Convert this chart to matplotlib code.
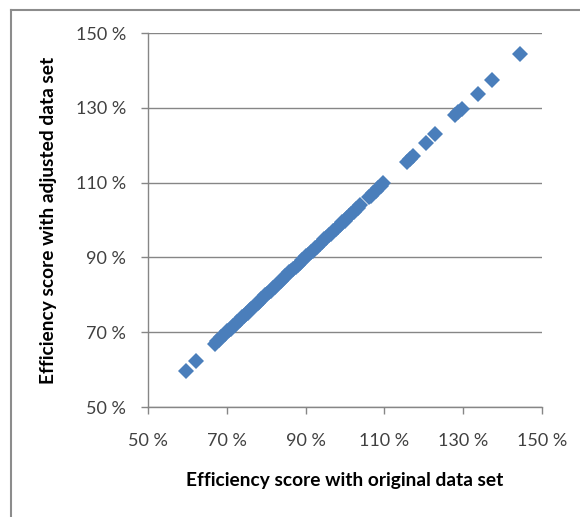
import numpy as np
import matplotlib.pyplot as plt
from matplotlib.lines import Line2D

plt.rcParams['font.family'] = ['Lato', 'DejaVu Sans']

# efficiency scores (%)
orig = [59.6, 62.2,
        67.0, 67.5, 68.1, 68.6, 69.0, 69.6, 70.1, 70.5, 71.0, 71.6, 72.1, 72.5,
        73.0, 73.4, 73.9, 74.4, 74.8, 75.3, 75.8, 76.2, 76.7, 77.3, 77.8, 78.2,
        78.7, 79.3, 79.8, 80.3, 80.7, 81.2, 81.8, 82.3, 82.8, 83.2, 83.7, 84.3,
        84.8, 85.4, 85.9, 86.4, 86.9, 87.5, 88.0, 88.6, 89.1, 89.6, 90.2, 90.7,
        91.3, 91.9, 92.4, 93.0, 93.6, 94.1, 94.7, 95.3, 95.9, 96.4, 97.0, 97.6,
        98.1, 98.7, 99.3, 99.9, 100.5, 101.1, 101.6, 102.2, 102.8, 103.3, 103.9,
        106.0, 106.6, 107.2, 107.8, 108.5, 109.1, 109.7,
        115.7, 116.5, 117.2, 120.5, 122.8, 127.9, 128.8, 129.7, 133.7, 137.3, 144.4]
adj = [59.7, 62.3,
       66.9, 67.6, 68.0, 68.7, 69.1, 69.5, 70.2, 70.6, 70.9, 71.7, 72.0, 72.6,
       73.1, 73.3, 74.0, 74.3, 74.9, 75.2, 75.9, 76.1, 76.8, 77.2, 77.9, 78.1,
       78.8, 79.2, 79.9, 80.2, 80.8, 81.1, 81.9, 82.2, 82.9, 83.1, 83.8, 84.2,
       84.9, 85.3, 86.0, 86.3, 87.0, 87.4, 88.1, 88.5, 89.2, 89.5, 90.3, 90.6,
       91.4, 91.8, 92.5, 92.9, 93.7, 94.0, 94.8, 95.2, 96.0, 96.3, 97.1, 97.5,
       98.2, 98.6, 99.4, 99.8, 100.6, 101.0, 101.7, 102.1, 102.9, 103.2, 104.0,
       106.1, 106.5, 107.3, 107.7, 108.6, 109.0, 109.8,
       115.5, 116.4, 117.0, 120.5, 122.9, 128.0, 128.9, 129.6, 133.6, 137.4, 144.4]

ticks = [50, 70, 90, 110, 130, 150]
tick_labels = ['50 %', '70 %', '90 %', '110 %', '130 %', '150 %']

fig = plt.figure(figsize=(5.8, 5.17), dpi=100)
ax = fig.add_axes([148/580, 1 - 407/517, 394/580, 374/517])

ax.plot(orig, adj, linestyle='none', marker='D', markersize=8,
        color='#4A7EBB', markeredgewidth=0, zorder=3)

ax.set_xlim(50, 150)
ax.set_ylim(50, 150)
ax.set_xticks(ticks)
ax.set_yticks(ticks)
ax.set_xticklabels(tick_labels)
ax.set_yticklabels(tick_labels)
ax.tick_params(axis='both', direction='out', length=5, width=1, color='#868686',
               labelsize=13, labelcolor='#404040')
ax.tick_params(axis='x', pad=14)
ax.tick_params(axis='y', pad=11)

ax.grid(axis='y', color='#868686', linewidth=1)
ax.set_axisbelow(True)
for s in ['top', 'right']:
    ax.spines[s].set_visible(False)
for s in ['left', 'bottom']:
    ax.spines[s].set_color('#868686')
    ax.spines[s].set_linewidth(1)

ax.set_xlabel('Efficiency score with original data set', fontsize=13.8,
              fontweight='bold', labelpad=16)
ax.set_ylabel('Efficiency score with adjusted data set', fontsize=13.8,
              fontweight='bold', labelpad=13)

# outer chart frame (cropped on right and bottom)
fig.add_artist(Line2D([11/580, 1], [1 - 10/517, 1 - 10/517], color='#8C8C8C', lw=1.5))
fig.add_artist(Line2D([11/580, 11/580], [0, 1 - 10/517], color='#8C8C8C', lw=1.5))

fig.savefig('out.png', dpi=100)
